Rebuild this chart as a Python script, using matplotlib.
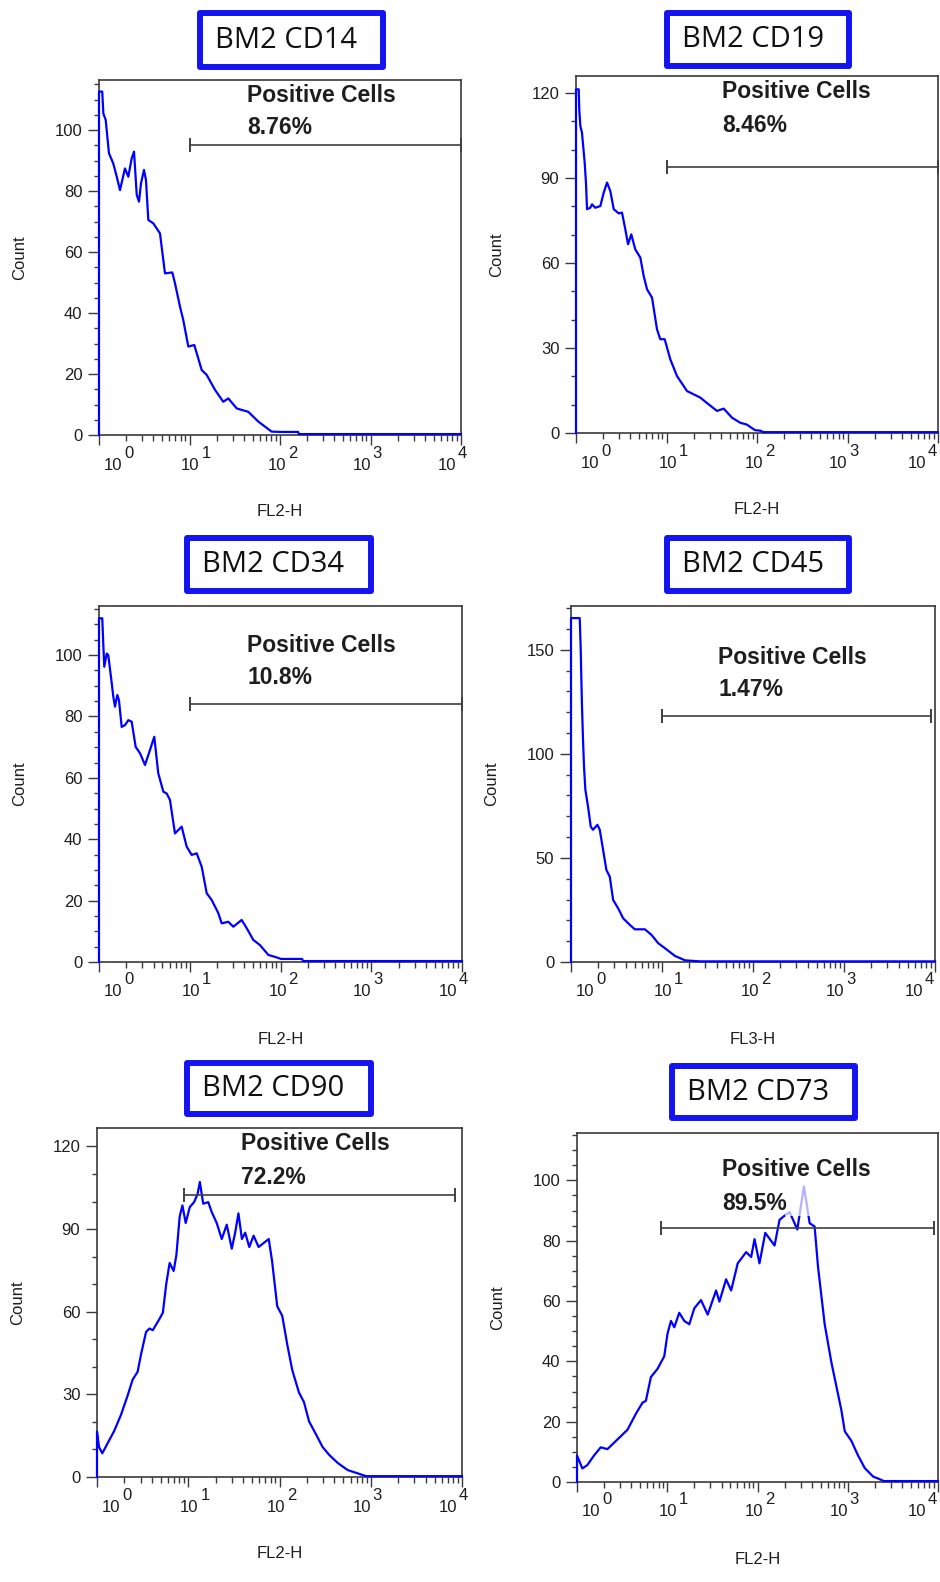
import numpy as np
import matplotlib
matplotlib.use('Agg')
import matplotlib.pyplot as plt
from matplotlib.patches import Rectangle
from matplotlib.ticker import MultipleLocator, LogLocator, NullFormatter
from matplotlib.transforms import blended_transform_factory, ScaledTranslation

plt.rcParams['font.family'] = ['Liberation Sans', 'DejaVu Sans']

# ---- data (x as log10 of fluorescence, y = count) ----
markers = ['CD14', 'CD19', 'CD34', 'CD45', 'CD90', 'CD73']
channels = ['FL2-H', 'FL2-H', 'FL2-H', 'FL3-H', 'FL2-H', 'FL2-H']
positive_pct = ['8.76%', '8.46%', '10.8%', '1.47%', '72.2%', '89.5%']

cd14_logx = [0, 0, 0.036, 0.048, 0.074, 0.11, 0.158, 0.196, 0.232, 0.287, 0.324, 0.361, 0.387, 0.417,
             0.442, 0.464, 0.497, 0.519, 0.545, 0.6, 0.674, 0.729, 0.81, 0.84, 0.895, 0.931, 0.987,
             1.053, 1.135, 1.19, 1.282, 1.373, 1.429, 1.522, 1.65, 1.76, 1.908, 2.019, 2.2, 2.21, 4.0]
cd14_count = [0, 112.6, 112.6, 105.4, 103.3, 92.4, 89, 84.7, 80.3, 87.4, 84.7, 90.7, 92.9, 78.7,
              76.5, 82.5, 86.9, 83.6, 70.5, 69.4, 66.1, 53, 53.3, 49.7, 42.1, 37.7, 29,
              29.5, 21.3, 19.7, 14.8, 10.9, 12, 8.7, 7.6, 4.4, 1.1, 1, 1, 0.3, 0.3]

cd19_logx = [0, 0, 0.03, 0.036, 0.048, 0.066, 0.096, 0.11, 0.122, 0.158, 0.177, 0.213, 0.269, 0.306,
             0.343, 0.379, 0.417, 0.472, 0.508, 0.545, 0.575, 0.611, 0.655, 0.711, 0.748, 0.785, 0.84,
             0.895, 0.931, 0.98, 1.042, 1.116, 1.227, 1.373, 1.466, 1.558, 1.632, 1.724, 1.816, 1.886,
             1.978, 2.04, 2.07, 4.0]
cd19_count = [0, 121.3, 121.3, 114.3, 108.4, 106, 95.4, 88.4, 79, 79.5, 80.7, 79.5, 80.1, 84.8,
              88.4, 85.4, 79, 77.5, 77.8, 71.9, 66.6, 70.1, 64.8, 61.9, 55.4, 50.7, 47.8,
              36.6, 33.1, 33.1, 26, 20.1, 14.8, 12.5, 10.1, 7.8, 8.6, 5.4, 3.6, 3.0,
              1.0, 0.8, 0.3, 0.3]

cd34_logx = [0, 0, 0.036, 0.047, 0.058, 0.085, 0.102, 0.132, 0.158, 0.176, 0.202, 0.22, 0.25, 0.287,
             0.323, 0.36, 0.404, 0.452, 0.507, 0.562, 0.609, 0.653, 0.709, 0.746, 0.782, 0.837, 0.874,
             0.911, 0.966, 1.021, 1.077, 1.132, 1.187, 1.242, 1.315, 1.352, 1.425, 1.48, 1.572, 1.628,
             1.7, 1.774, 1.866, 1.958, 2.005, 2.237, 2.25, 4.0]
cd34_count = [0, 112, 112, 103.8, 96.2, 100.5, 100, 92.9, 86.4, 83.2, 87, 85.3, 76.6, 77.2,
              78.8, 78.3, 70.1, 68, 64.2, 69.1, 73.4, 61.5, 55.5, 54.9, 52.8, 41.9, 43,
              44.1, 37.6, 34.9, 35.4, 31, 22.4, 20.2, 15.9, 12.6, 13.1, 11.5, 13.7, 11,
              7.2, 5.5, 2.3, 1.5, 1, 1, 0.3, 0.3]

cd45_logx = [0, 0, 0.096, 0.107, 0.113, 0.121, 0.132, 0.143, 0.158, 0.187, 0.217, 0.242, 0.29, 0.316,
             0.353, 0.389, 0.426, 0.463, 0.518, 0.573, 0.647, 0.702, 0.812, 0.885, 0.959, 1.033, 1.143,
             1.253, 1.42, 4.0]
cd45_count = [0, 165.2, 165.2, 150, 137.2, 122.7, 106.7, 93.9, 82.7, 74.7, 65, 63.5, 65.9, 63.5,
              53.8, 44.2, 41, 29.8, 25.8, 21, 17.8, 15.7, 15.7, 13, 9, 6.6, 2.9,
              0.8, 0.3, 0.3]

cd90_logx = [0, 0, 0.022, 0.058, 0.114, 0.188, 0.262, 0.335, 0.39, 0.445, 0.483, 0.538, 0.575, 0.611,
             0.685, 0.722, 0.759, 0.796, 0.84, 0.87, 0.906, 0.936, 0.972, 1.017, 1.064, 1.102, 1.127,
             1.164, 1.219, 1.256, 1.312, 1.367, 1.422, 1.477, 1.514, 1.55, 1.588, 1.624, 1.669, 1.716,
             1.771, 1.882, 1.919, 1.975, 2.03, 2.085, 2.14, 2.213, 2.268, 2.324, 2.398, 2.472, 2.545,
             2.638, 2.748, 2.859, 2.95, 4.0]
cd90_count = [0, 16.5, 10.9, 8.6, 12.1, 16.7, 22.5, 29.5, 35.3, 38.2, 44.6, 52.7, 53.9, 53.3,
              57.4, 59.7, 70.1, 77.7, 74.8, 80.6, 94.5, 98.6, 92.2, 98, 99.8, 102.7, 107.1,
              99.2, 99.8, 96.3, 92.2, 86.4, 91.6, 82.9, 88.7, 95.7, 86.4, 88.7, 83.5, 87.6,
              83.5, 86.4, 78.3, 62, 58.5, 48.1, 38.8, 30.7, 27.2, 20.2, 15.6, 10.9, 8,
              5.1, 2.5, 1.3, 0.3, 0.3]

cd73_logx = [0, 0, 0.059, 0.114, 0.189, 0.263, 0.337, 0.448, 0.559, 0.652, 0.726, 0.763, 0.819, 0.892,
             0.967, 1.003, 1.041, 1.078, 1.133, 1.189, 1.244, 1.3, 1.374, 1.448, 1.541, 1.578, 1.652,
             1.708, 1.781, 1.874, 1.93, 1.967, 2.022, 2.086, 2.189, 2.244, 2.3, 2.356, 2.441, 2.514,
             2.578, 2.633, 2.67, 2.744, 2.819, 2.93, 2.967, 3.041, 3.114, 3.189, 3.281, 3.356, 3.4, 4.0]
cd73_count = [0, 8.8, 4.5, 5.6, 8.8, 11.5, 10.9, 14.1, 17.3, 22.6, 26.3, 26.9, 34.8, 37.5,
              41.7, 49.2, 53.4, 51.3, 56.1, 53.4, 52.3, 57.6, 60.3, 55.5, 63.5, 59.8, 67.2,
              63.5, 72.5, 76.2, 74.6, 80.5, 72.5, 82.6, 78.4, 86.9, 88.3, 89.5, 83.7, 98,
              85.8, 84.7, 71.5, 52.4, 39.6, 23.7, 16.8, 13.6, 8.8, 4.6, 1.8, 0.9, 0.3, 0.3]

hist_logx = [cd14_logx, cd19_logx, cd34_logx, cd45_logx, cd90_logx, cd73_logx]
hist_count = [cd14_count, cd19_count, cd34_count, cd45_count, cd90_count, cd73_count]

# marker gate (Positive Cells) : start, end, level
gate_lo = [10, 10, 10, 10, 8.9, 8.5]
gate_hi = [1e4, 1e4, 1e4, 9040, 8300, 9040]
gate_level = [95.1, 93.9, 84, 118.3, 102.2, 84.2]

y_max = [116.4, 126, 116, 171, 126.7, 115.7]
y_major = [20, 30, 20, 50, 30, 20]
y_minor = [5, 10, 5, 10, 10, 5]

# ---- layout in pixels of the 940x1582 canvas ----
W, H = 940, 1582
axes_px = [(99, 80, 461, 435), (576, 76, 938, 433), (99, 606, 462, 962),
           (571, 606, 935, 962), (97, 1128, 462, 1477), (577, 1133, 938, 1482)]
title_px = [(197, 10, 386, 70), (664, 10, 852, 69), (184, 535, 374, 594),
            (664, 535, 852, 594), (184, 1060, 374, 1117), (669, 1063, 858, 1121)]
label_px = [(247, 95, 128), (722, 92, 125), (247, 645, 678),
            (718, 657, 690), (241, 1143, 1177), (722, 1170, 1203)]
dec_shift = [14, 1, -3, -9, -14]

BLUE = '#0000ff'
DARK = '#3a3a3a'
TXT = '#1e1e1e'

fig = plt.figure(figsize=(W / 100, H / 100), dpi=100)


def fx(px):
    return px / W


def fy(py):
    return 1 - py / H


for i in range(6):
    l, t, r, b = axes_px[i]
    ax = fig.add_axes([fx(l), fy(b), (r - l) / W, (b - t) / H])
    x = np.power(10.0, hist_logx[i])
    ax.plot(x, hist_count[i], color=BLUE, lw=1.6, zorder=3, clip_on=False)

    ax.set_xscale('log')
    ax.set_xlim(1, 1e4)
    ax.set_ylim(0, y_max[i])
    ax.xaxis.set_major_locator(LogLocator(base=10, numticks=10))
    ax.xaxis.set_minor_locator(LogLocator(base=10, subs=np.arange(2, 10), numticks=20))
    ax.xaxis.set_minor_formatter(NullFormatter())
    ax.yaxis.set_major_locator(MultipleLocator(y_major[i]))
    ax.yaxis.set_minor_locator(MultipleLocator(y_minor[i]))

    for s in ax.spines.values():
        s.set_color(DARK)
        s.set_linewidth(1.2)
    ax.tick_params(axis='both', which='both', direction='out', color=DARK, width=1.0)
    ax.tick_params(axis='y', which='major', length=8, pad=4, labelsize=12, labelcolor=TXT)
    ax.tick_params(axis='y', which='minor', length=3.6)
    ax.tick_params(axis='x', which='major', length=7, labelbottom=False)
    ax.tick_params(axis='x', which='minor', length=4.5)

    # decade labels 10^n (the last one pulled in where the panel meets the canvas edge)
    trans = blended_transform_factory(ax.transData, ax.transAxes)
    for d in range(5):
        off = dec_shift[d]
        if d == 4 and r > W - 12:
            off = -21
        t1 = trans + ScaledTranslation(off / 100, -30 / 100, fig.dpi_scale_trans)
        ax.text(10.0 ** d, 0, '10', transform=t1, ha='center', va='center',
                fontsize=12, color=TXT)
        t2 = trans + ScaledTranslation((off + 11) / 100, -18 / 100, fig.dpi_scale_trans)
        ax.text(10.0 ** d, 0, str(d), transform=t2, ha='left', va='center',
                fontsize=12, color=TXT)

    # axis titles
    ax.text(0.5, 0, channels[i], transform=ax.transAxes + ScaledTranslation(0, -0.77, fig.dpi_scale_trans),
            ha='center', va='center', fontsize=12, color=TXT)
    ax.text(0, 0.5, 'Count', transform=ax.transAxes + ScaledTranslation(-0.79, 0, fig.dpi_scale_trans),
            ha='center', va='center', rotation=90, fontsize=12, color=TXT)

    # positive gate
    ax.plot([gate_lo[i], gate_hi[i]], [gate_level[i]] * 2, color='#404040', lw=1.2,
            marker='|', ms=10, mew=1.4, zorder=4, clip_on=False)

    # gate label
    gx, gy1, gy2 = label_px[i]
    fig.text(fx(gx), fy(gy1), 'Positive Cells', ha='left', va='center', fontsize=16.5,
             fontweight='bold', color=TXT, zorder=5)
    fig.text(fx(gx), fy(gy2), positive_pct[i], ha='left', va='center', fontsize=16.5,
             fontweight='bold', color=TXT, zorder=5)

    # title box
    x0, y0, x1, y1 = title_px[i]
    fig.patches.append(Rectangle((fx(x0 + 3), fy(y1 - 3)), (x1 - x0 - 6) / W, (y1 - y0 - 6) / H,
                                 transform=fig.transFigure, facecolor='white', edgecolor='#1414f0',
                                 linewidth=4.3, joinstyle='round', zorder=2))
    fig.text(fx(x0 + 18), fy((y0 + y1) / 2), 'BM2 ' + markers[i], ha='left', va='center',
             fontsize=21, family=['Open Sans', 'DejaVu Sans'], color='#111111', zorder=6)

# the label block in the CD73 panel sits over the curve and washes it out
fig.patches.append(Rectangle((fx(785), fy(1216)), 25 / W, 34 / H, transform=fig.transFigure,
                             facecolor='white', edgecolor='none', alpha=0.7, zorder=3))

fig.savefig('out.png', dpi=100)
